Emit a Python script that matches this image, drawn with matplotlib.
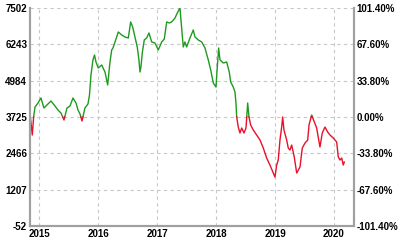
import numpy as np
import matplotlib
matplotlib.use("Agg")
import matplotlib.pyplot as plt

plt.rcParams['font.family'] = ['Liberation Sans', 'DejaVu Sans']

# decimal year / value pairs
years = [2014.847, 2014.878, 2014.898, 2014.924, 2014.975, 2015.025, 2015.076, 2015.127,
         2015.195, 2015.263, 2015.314, 2015.365, 2015.416, 2015.467, 2015.518, 2015.569,
         2015.620, 2015.654, 2015.688, 2015.722, 2015.772, 2015.823, 2015.849, 2015.874,
         2015.908, 2015.934, 2015.959, 2015.998, 2016.056, 2016.112, 2016.158, 2016.197,
         2016.226, 2016.248, 2016.294, 2016.338, 2016.396, 2016.452, 2016.508, 2016.548,
         2016.582, 2016.621, 2016.660, 2016.689, 2016.706, 2016.723, 2016.745, 2016.779,
         2016.820, 2016.859, 2016.905, 2016.961, 2017.017, 2017.075, 2017.119, 2017.160,
         2017.204, 2017.244, 2017.301, 2017.340, 2017.385, 2017.414, 2017.441, 2017.470,
         2017.499, 2017.555, 2017.611, 2017.640, 2017.696, 2017.754, 2017.810, 2017.866,
         2017.907, 2017.951, 2017.997, 2018.019, 2018.042, 2018.065, 2018.121, 2018.178,
         2018.222, 2018.246, 2018.290, 2018.319, 2018.336, 2018.348, 2018.375, 2018.404,
         2018.433, 2018.472, 2018.506, 2018.535, 2018.557, 2018.586, 2018.630, 2018.688,
         2018.744, 2018.800, 2018.857, 2018.913, 2018.969, 2018.998, 2019.027, 2019.054,
         2019.083, 2019.112, 2019.129, 2019.151, 2019.197, 2019.224, 2019.253, 2019.282,
         2019.326, 2019.367, 2019.423, 2019.462, 2019.508, 2019.554, 2019.576, 2019.621,
         2019.666, 2019.706, 2019.762, 2019.801, 2019.847, 2019.893, 2019.932, 2019.988,
         2020.046, 2020.073, 2020.102, 2020.131, 2020.158, 2020.175]
values = [3690, 3101, 3690, 4071, 4210, 4383, 4037, 4141,
          4279, 4106, 3967, 3863, 3621, 4037, 4106, 4383,
          4210, 3967, 3829, 3586, 4037, 4175, 4487, 5180,
          5700, 5873, 5631, 5423, 5527, 5284, 4834, 5631,
          6047, 6116, 6393, 6670, 6566, 6497, 6462, 7017,
          6844, 6497, 6150, 5700, 5284, 5457, 5943, 6393,
          6462, 6636, 6324, 6289, 6047, 6324, 6428, 7017,
          6982, 7017, 7155, 7329, 7502, 6809, 6150, 6324,
          6150, 6462, 6740, 6497, 6393, 6324, 6116, 5700,
          5353, 4903, 4764, 5457, 6116, 5700, 5596, 5631,
          5284, 4938, 4764, 4591, 4210, 3725, 3378, 3170,
          3344, 3170, 3344, 4210, 3725, 3447, 3274, 3101,
          2928, 2650, 2304, 2061, 1784, 1645, 2061, 2235,
          2928, 3378, 3725, 3274, 2928, 2650, 2581, 2754,
          2339, 1784, 1992, 2650, 2824, 2928, 3447, 3794,
          3551, 3344, 2685, 3170, 3378, 3205, 3101, 2997,
          2858, 2339, 2235, 2304, 2061, 2165]

base = 3725
left_ticks = [-52, 1207, 2466, 3725, 4984, 6243, 7502]
year_ticks = [2015, 2016, 2017, 2018, 2019, 2020]

GREEN = "#1f9a1f"
RED = "#e8102a"

x = np.array(years)
y = np.array(values, dtype=float)

# insert crossing points so the colour switches exactly at the base line
xs, ys = [x[0]], [y[0]]
for i in range(1, len(x)):
    y0, y1 = y[i - 1], y[i]
    if (y0 - base) * (y1 - base) < 0:
        t = (base - y0) / (y1 - y0)
        xs.append(x[i - 1] + t * (x[i] - x[i - 1]))
        ys.append(base)
    xs.append(x[i]); ys.append(y[i])
xs = np.array(xs); ys = np.array(ys)

fig = plt.figure(figsize=(4.0, 2.41), dpi=100)
ax = fig.add_axes([0.075, 0.062, 0.81, 0.905])

up = np.ma.masked_where(ys < base, ys)
dn = np.ma.masked_where(ys > base, ys)
ax.plot(xs, up, color=GREEN, lw=1.0)
ax.plot(xs, dn, color=RED, lw=1.0)

ax.set_xlim(2014.839, 2020.34)
ax.set_ylim(-52, 7502)
ax.set_yticks(left_ticks)
ax.set_yticklabels([str(t) for t in left_ticks])
ax.set_xticks(year_ticks)
ax.set_xticklabels([str(t) for t in year_ticks])
ax.grid(True, color="#c8c8c8", linestyle=(0, (3, 3)), linewidth=0.8)
ax.tick_params(length=0, labelsize=7, pad=2)
for lab in ax.get_xticklabels() + ax.get_yticklabels():
    lab.set_fontweight("bold")

ax.spines["top"].set_visible(False)
for s in ["left", "right", "bottom"]:
    ax.spines[s].set_color("#a0a0a0")
    ax.spines[s].set_linewidth(1.5)

ax2 = ax.twinx()
ax2.set_ylim(ax.get_ylim())
ax2.set_yticks(left_ticks)
ax2.set_yticklabels([f"{(t - base) / base * 100:.2f}%" for t in left_ticks])
ax2.tick_params(length=0, labelsize=7, pad=2)
for lab in ax2.get_yticklabels():
    lab.set_fontweight("bold")
ax2.spines["top"].set_visible(False)
for s in ["left", "right", "bottom"]:
    ax2.spines[s].set_color("#a0a0a0")
    ax2.spines[s].set_linewidth(1.5)

fig.savefig("out.png", dpi=100)
